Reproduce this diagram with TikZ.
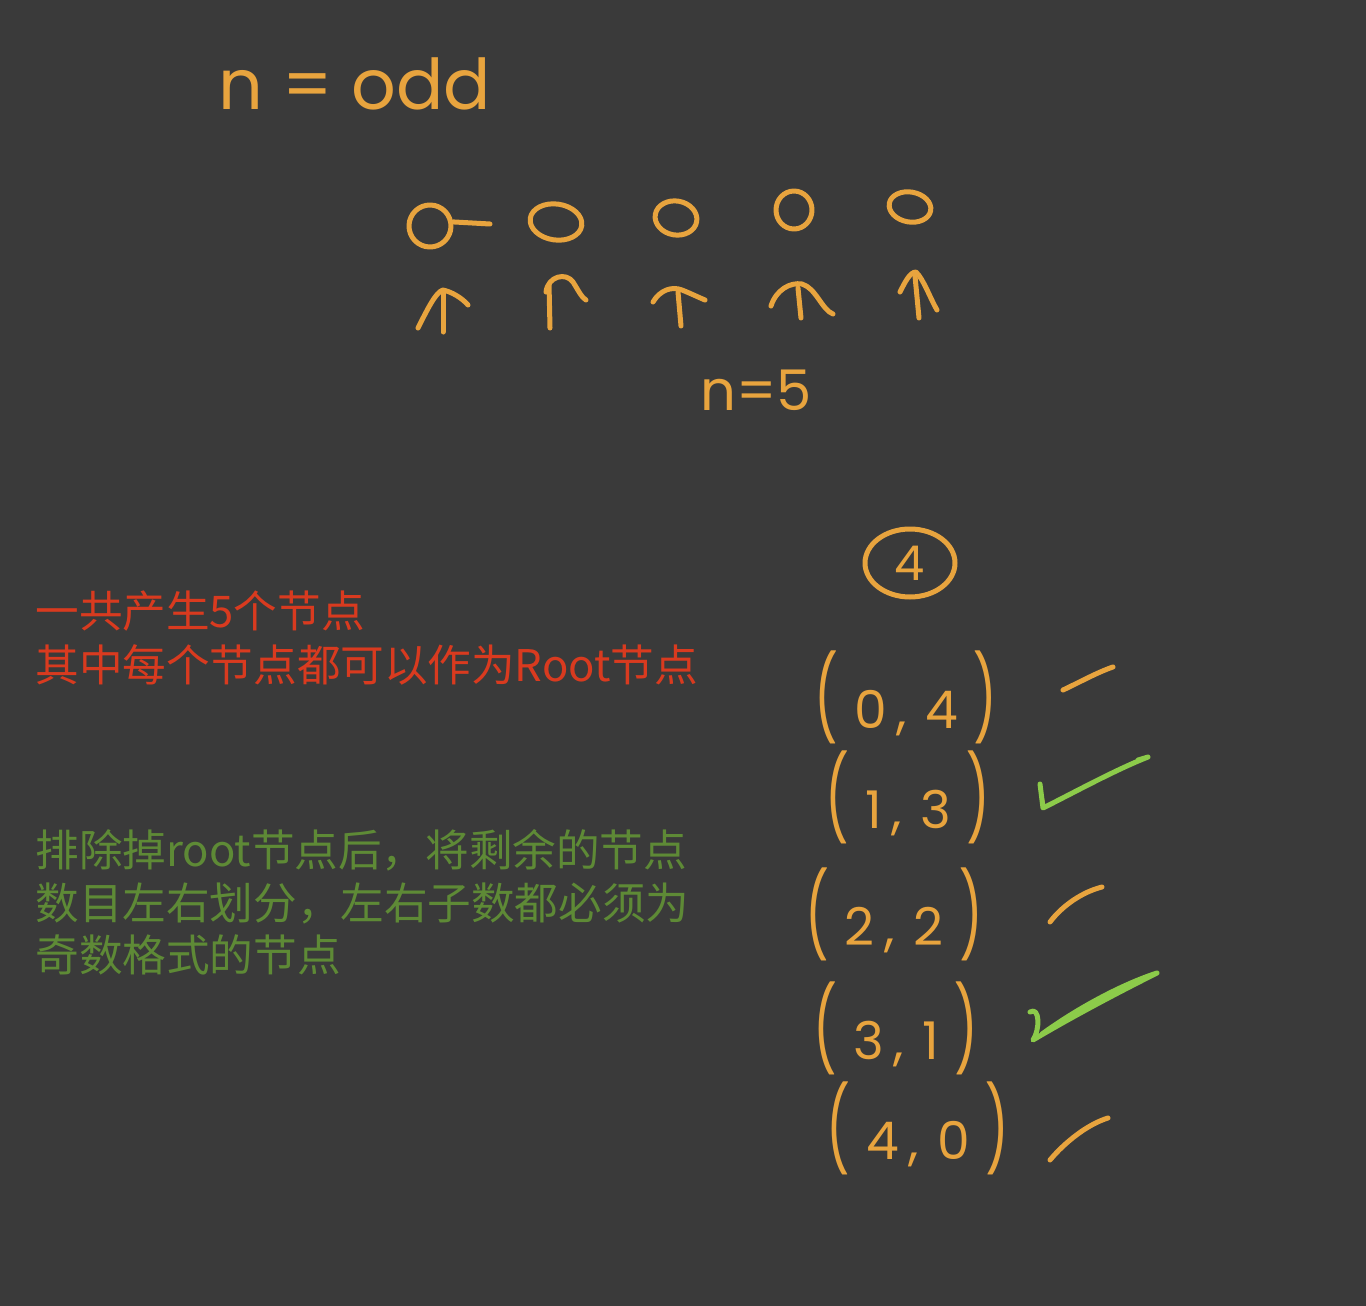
\documentclass[tikz,border=0pt]{standalone}
\usepackage{fontspec}
\usepackage{graphicx}
\usetikzlibrary{shapes.geometric}
\newfontfamily\cjk{Noto Sans CJK SC}
\newfontfamily\hand{Poppins}
\definecolor{bgc}{HTML}{3A3A3A}
\definecolor{ink}{HTML}{E8A43E}
\definecolor{redt}{HTML}{D93A1F}
\definecolor{greent}{HTML}{5E8A36}
\definecolor{chk}{HTML}{8CCB4A}
\newcommand\bigpar[1]{\scalebox{1}[1.6]{#1}}
\newcommand\pairtxt[2]{\bigpar{(}\hspace{8pt}#1\hspace{5pt},\hspace{9pt}#2\hspace{8pt}\bigpar{)}}
\begin{document}
\begin{tikzpicture}[x=0.5pt,y=-0.5pt,
  stroke/.style={draw=ink,line width=2.5pt,line cap=round,line join=round},
  gstroke/.style={draw=chk,line width=2.5pt,line cap=round,line join=round},
  handtext/.style={text=ink,inner sep=0pt},
  loop/.style={stroke,ellipse,inner sep=0pt},
  redline/.style={text=redt,inner sep=0pt,anchor=west,font=\cjk\fontsize{21.8}{26}\selectfont},
  greenline/.style={text=greent,inner sep=0pt,anchor=west,font=\cjk\fontsize{21.8}{26}\selectfont},
  pair/.style={handtext,font=\hand\fontsize{26}{30}\selectfont}]
\fill[bgc] (0,0) rectangle (1366,1306);
\useasboundingbox (0,0) rectangle (1366,1306);

% title
\node[handtext,font=\hand\fontsize{35}{40}\selectfont] (title) at (355,84) {n = odd};

% five nodes
\node[loop,minimum width=21pt,minimum height=21pt,rotate=10] (c1) at (430,226) {};
\coordinate (c1t) at (490,224);
\draw[stroke] (c1.east) -- (c1t);
\node[loop,minimum width=26pt,minimum height=18pt,rotate=-8] (c2) at (556,222) {};
\node[loop,minimum width=21pt,minimum height=17pt,rotate=-10] (c3) at (676,218) {};
\node[loop,minimum width=18pt,minimum height=19pt] (c4) at (794,210) {};
\node[loop,minimum width=21pt,minimum height=15pt,rotate=-10] (c5) at (910,207) {};

% arrows
\draw[stroke] (443,332) -- (443,292);
\draw[stroke] (418,328) .. controls (428,308) and (436,292) .. (443,290) .. controls (452,292) and (462,298) .. (468,305);
\draw[stroke] (550,328) -- (549,284);
\draw[stroke] (546,292) .. controls (548,276) and (566,272) .. (573,282) .. controls (578,290) and (582,298) .. (586,300);
\draw[stroke] (681,326) -- (678,292);
\draw[stroke] (653,302) .. controls (660,290) and (672,286) .. (682,290) .. controls (692,294) and (700,298) .. (705,300);
\draw[stroke] (801,318) -- (798,288);
\draw[stroke] (771,306) .. controls (776,290) and (790,282) .. (802,284) .. controls (816,288) and (822,310) .. (833,314);
\draw[stroke] (919,318) -- (915,276);
\draw[stroke] (900,292) .. controls (905,282) and (910,272) .. (916,272) .. controls (924,280) and (930,298) .. (937,310);

% n=5
\node[handtext,font=\hand\fontsize{28}{32}\selectfont] (n5) at (756,390) {n=5};

% root node
\node[loop,minimum width=45pt,minimum height=34pt,font=\hand\fontsize{24}{28}\selectfont,text=ink] (root) at (910,563) {4};

% pairs
\node[pair] (p04) at (906,697) {\pairtxt{0}{4}};
\node[pair] (p13) at (908,797) {\pairtxt{1}{3}};
\node[pair] (p22) at (894,914) {\pairtxt{2}{2}};
\node[pair] (p31) at (896,1028) {\pairtxt{3}{1}};
\node[pair] (p40) at (918,1128) {\pairtxt{4}{0}};

% ticks
\draw[stroke] (1063,690) .. controls (1080,682) and (1098,672) .. (1113,667);
\draw[stroke,line width=1.5pt] (1042,796) -- (1044,806);
\draw[gstroke] (1040,784) -- (1043,808) .. controls (1075,792) and (1115,770) .. (1148,757) -- (1138,760);
\draw[stroke] (1050,922) .. controls (1062,906) and (1082,892) .. (1102,887);
\draw[gstroke] (1030,1012) .. controls (1040,1006) and (1040,1030) .. (1033,1040) .. controls (1070,1018) and (1115,994) .. (1157,973) .. controls (1120,985) and (1075,1010) .. (1042,1034);
\draw[stroke] (1050,1160) .. controls (1065,1142) and (1088,1124) .. (1108,1118);

% captions
\node[redline] (r1) at (35,611) {一共产生5个节点};
\node[redline] (r2) at (35,665) {其中每个节点都可以作为Root节点};
\node[greenline] (g1) at (35,850) {排除掉root节点后，将剩余的节点};
\node[greenline] (g2) at (35,903) {数目左右划分，左右子数都必须为};
\node[greenline] (g3) at (35,955) {奇数格式的节点};
\end{tikzpicture}
\end{document}
